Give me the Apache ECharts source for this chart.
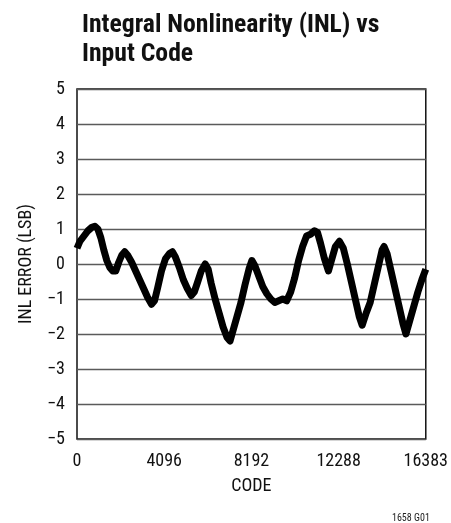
<!DOCTYPE html>
<html>
<head>
<meta charset="utf-8">
<script src="https://cdn.jsdelivr.net/npm/echarts@6/dist/echarts.min.js"></script>
<style>
html,body{margin:0;padding:0;background:#fff;}
#c{width:451px;height:523px;}
</style>
</head>
<body>
<div id="c"></div>
<script>
const titleLines = ['Integral Nonlinearity (INL) vs', 'Input Code'];
const xAxisName = 'CODE';
const yAxisName = 'INL ERROR (LSB)';
const footnote = '1658 G01';
const xTickValues = [0, 4096, 8192, 12288, 16383];
const codes = [0,140,327,513,700,840,980,1120,1260,1400,1540,1680,1820,1961,2101,2241,2381,2567,2754,2941,3128,3314,3501,3641,3781,3968,4155,4341,4481,4621,4808,4995,5182,5368,5508,5648,5835,6022,6162,6302,6488,6675,6862,7049,7189,7329,7516,7702,7889,8076,8216,8356,8542,8729,8916,9103,9289,9476,9663,9850,10036,10223,10410,10597,10783,10970,11157,11297,11437,11623,11810,11950,12137,12324,12510,12697,12884,13070,13257,13397,13584,13771,13957,14144,14331,14424,14564,14751,14938,15125,15311,15451,15638,15825,16012,16198,16383];
const inl = [0.45,0.65,0.8,0.95,1.05,1.08,1.0,0.75,0.4,0.1,-0.1,-0.2,-0.2,0.05,0.25,0.35,0.25,0.05,-0.2,-0.45,-0.7,-0.95,-1.15,-1.05,-0.7,-0.2,0.15,0.3,0.35,0.2,-0.1,-0.45,-0.7,-0.9,-0.8,-0.55,-0.2,0.0,-0.15,-0.55,-1.0,-1.4,-1.8,-2.1,-2.2,-1.9,-1.5,-1.1,-0.6,-0.15,0.1,-0.05,-0.35,-0.65,-0.85,-1.0,-1.1,-1.05,-1.0,-1.05,-0.8,-0.4,0.1,0.5,0.8,0.85,0.95,0.9,0.6,0.15,-0.2,0.1,0.5,0.65,0.45,0.0,-0.5,-1.0,-1.5,-1.75,-1.4,-1.1,-0.6,-0.1,0.4,0.5,0.3,-0.2,-0.7,-1.2,-1.7,-2.0,-1.6,-1.2,-0.8,-0.45,-0.15];

const FONT = "'Liberation Sans Narrow', 'Roboto Condensed', 'Liberation Sans', sans-serif";
const chart = echarts.init(document.getElementById('c'), null, {renderer:'canvas'});
const fmtMinus = v => String(v).replace('-', '\u2212');
const xMax = xTickValues[xTickValues.length - 1];
chart.setOption({
  animation: false,
  backgroundColor: '#fff',
  title: [{
    text: titleLines.join('\n'),
    left: 77, top: 6,
    textStyle: {fontFamily: FONT, fontWeight: 'bold', fontSize: 25.7, lineHeight: 29, color: '#111'}
  }, {
    text: footnote,
    left: 387, top: 507,
    textStyle: {fontFamily: FONT, fontWeight: 'normal', fontSize: 10, lineHeight: 12, color: '#222'}
  }],
  grid: {left: 77, right: 23, top: 89, bottom: 84, show: true, borderColor: '#111', borderWidth: 1.5, backgroundColor: 'transparent'},
  xAxis: {
    type: 'value', min: 0, max: xMax, interval: 4096,
    name: xAxisName, nameLocation: 'middle', nameGap: 38, nameMoveOverlap: false,
    nameTextStyle: {fontFamily: FONT, fontSize: 18, color: '#111'},
    axisLine: {show: false}, axisTick: {show: false}, splitLine: {show: false},
    axisLabel: {fontFamily: FONT, fontSize: 18, color: '#111', margin: 13,
      customValues: xTickValues, showMaxLabel: true,
      formatter: v => (v === xMax ? '{hi|' + v + '}' : String(v)),
      rich: {hi: {fontFamily: FONT, fontSize: 18, color: '#111', padding: [0, 0, 6, 0]}}}
  },
  yAxis: {
    type: 'value', min: -5, max: 5, interval: 1,
    name: yAxisName, nameLocation: 'middle', nameGap: 42, nameRotate: 90, nameMoveOverlap: false,
    nameTextStyle: {fontFamily: FONT, fontSize: 18, color: '#111'},
    axisLine: {show: false}, axisTick: {show: false},
    splitLine: {show: true, lineStyle: {color: '#5a5a5a', width: 1.3}},
    axisLabel: {fontFamily: FONT, fontSize: 18, color: '#111', margin: 12, formatter: fmtMinus}
  },
  series: [{
    type: 'line',
    data: codes.map((c, i) => [c, inl[i]]),
    showSymbol: false,
    smooth: false,
    lineStyle: {color: '#000', width: 7, join: 'round'},
    clip: true
  }]
});
</script>
</body>
</html>
